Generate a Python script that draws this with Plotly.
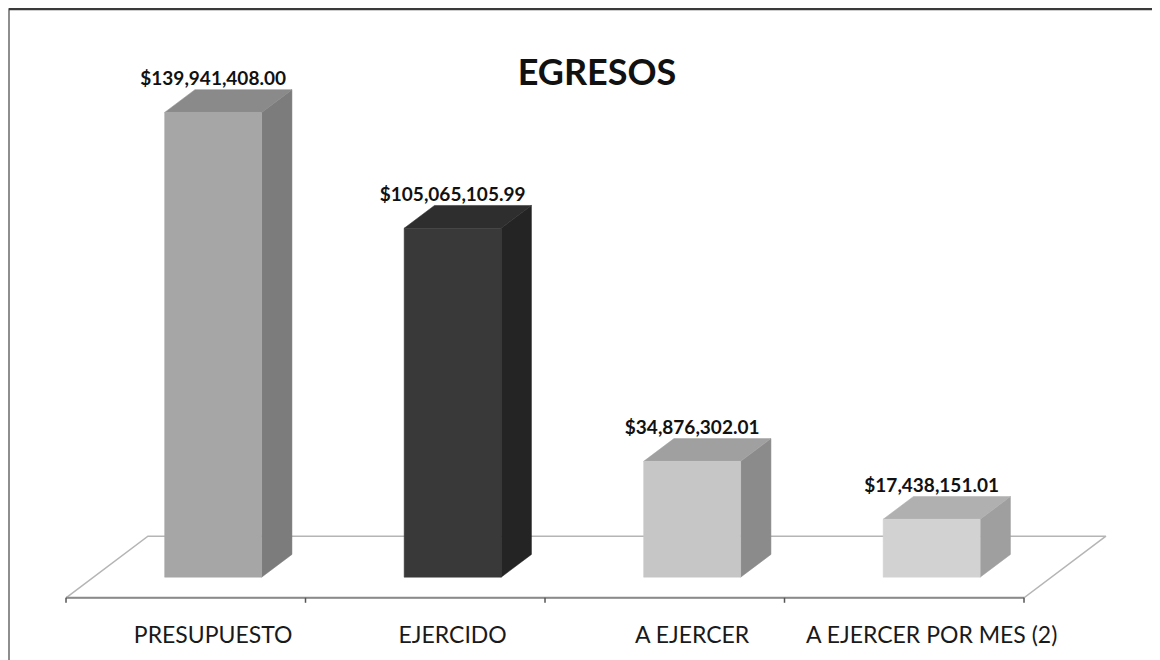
import plotly.graph_objects as go

# ---- data ----
categories = ["PRESUPUESTO", "EJERCIDO", "A EJERCER", "A EJERCER POR MES (2)"]
values = [139941408.00, 105065105.99, 34876302.01, 17438151.01]
value_labels = ["$139,941,408.00", "$105,065,105.99", "$34,876,302.01", "$17,438,151.01"]

# ---- styling / geometry of the pseudo-3D look ----
front_colors = ["#a6a6a6", "#393939", "#c6c6c6", "#d2d2d2"]
side_colors = ["#7c7c7c", "#242424", "#8b8b8b", "#9f9f9f"]
top_colors = ["#8a8a8a", "#2e2e2e", "#a0a0a0", "#b0b0b0"]

FLOOR_DX = 0.342          # depth vector, x component (category units)
FLOOR_DY = 18.54e6        # depth vector, y component (value units)
FLOOR_Y = -6.2e6          # front edge of floor
T0 = -FLOOR_Y / FLOOR_DY  # depth where bars stand
TB = 0.37                 # bar depth as fraction of floor depth
W = 0.405                 # bar width (category units)
n = len(categories)

fig = go.Figure()

# floor
fx = [-0.5, n - 0.5, n - 0.5 + FLOOR_DX, -0.5 + FLOOR_DX, -0.5]
fy = [FLOOR_Y, FLOOR_Y, FLOOR_Y + FLOOR_DY, FLOOR_Y + FLOOR_DY, FLOOR_Y]
fig.add_trace(go.Scatter(x=fx, y=fy, mode="lines", fill="toself", fillcolor="#ffffff",
                         line=dict(color="#b5b5b5", width=1.5), hoverinfo="skip", showlegend=False))
fig.add_trace(go.Scatter(x=[-0.5, n - 0.5], y=[FLOOR_Y, FLOOR_Y], mode="lines",
                         line=dict(color="#8a8a8a", width=2), hoverinfo="skip", showlegend=False))
# tick marks on the floor edge
for k in range(n + 1):
    fig.add_trace(go.Scatter(x=[k - 0.5, k - 0.5], y=[FLOOR_Y, FLOOR_Y - 1.5e6], mode="lines",
                             line=dict(color="#555555", width=1.5), hoverinfo="skip", showlegend=False))

bdx = TB * FLOOR_DX
bdy = TB * FLOOR_DY
for i, v in enumerate(values):
    xc = i + T0 * FLOOR_DX
    xl, xr = xc - W / 2, xc + W / 2
    # right side
    fig.add_trace(go.Scatter(x=[xr, xr + bdx, xr + bdx, xr, xr], y=[0, bdy, v + bdy, v, 0],
                             mode="lines", fill="toself", fillcolor=side_colors[i],
                             line=dict(color=side_colors[i], width=0.5), hoverinfo="skip", showlegend=False))
    # top
    fig.add_trace(go.Scatter(x=[xl, xr, xr + bdx, xl + bdx, xl], y=[v, v, v + bdy, v + bdy, v],
                             mode="lines", fill="toself", fillcolor=top_colors[i],
                             line=dict(color=top_colors[i], width=0.5), hoverinfo="skip", showlegend=False))
    # front face
    fig.add_trace(go.Scatter(x=[xl, xr, xr, xl, xl], y=[0, 0, v, v, 0],
                             mode="lines", fill="toself", fillcolor=front_colors[i],
                             line=dict(color=front_colors[i], width=0.5), hoverinfo="skip", showlegend=False))

# value labels
fig.add_trace(go.Scatter(
    x=[i + T0 * FLOOR_DX for i in range(n)], y=[v + bdy for v in values],
    mode="text", text=value_labels, textposition="top center",
    textfont=dict(family="Lato", size=19, color="#111111"),
    texttemplate="<b>%{text}</b>", hoverinfo="skip", showlegend=False))

# figure is placed 8px into the page (body margin), so size/margins compensate
fig.update_layout(
    width=1152, height=652,
    margin=dict(l=12, r=20, t=12, b=50),
    paper_bgcolor="white", plot_bgcolor="white",
    title=dict(text="<b>EGRESOS</b>", x=589 / 1152, xref="container", xanchor="center",
               y=1 - 64 / 652, yref="container", yanchor="middle",
               font=dict(family="Lato", size=36, color="#111111")),
    xaxis=dict(range=[-0.6921, 3.9843], showgrid=False, zeroline=False, showline=False,
               tickmode="array", tickvals=[i + T0 * FLOOR_DX for i in range(n)], ticktext=categories,
               ticks="", tickfont=dict(family="Lato", size=23, color="#1a1a1a"),
               ticklabelstandoff=13, fixedrange=True),
    yaxis=dict(range=[-8.67e6, 167.77e6], showgrid=False, zeroline=False, showline=False,
               showticklabels=False, fixedrange=True),
    shapes=[
        dict(type="rect", xref="paper", yref="paper", x0=(1 - 12) / 1120, x1=1.05,
             y0=-0.2, y1=(602 - 1) / 590, line=dict(color="#6a6a6a", width=1.5), layer="below"),
        dict(type="line", xref="paper", yref="paper", x0=(1 - 12) / 1120, x1=1.05,
             y0=(602 - 1) / 590, y1=(602 - 1) / 590, line=dict(color="#3a3a3a", width=2.5)),
    ],
)

fig.write_html("out.html")
